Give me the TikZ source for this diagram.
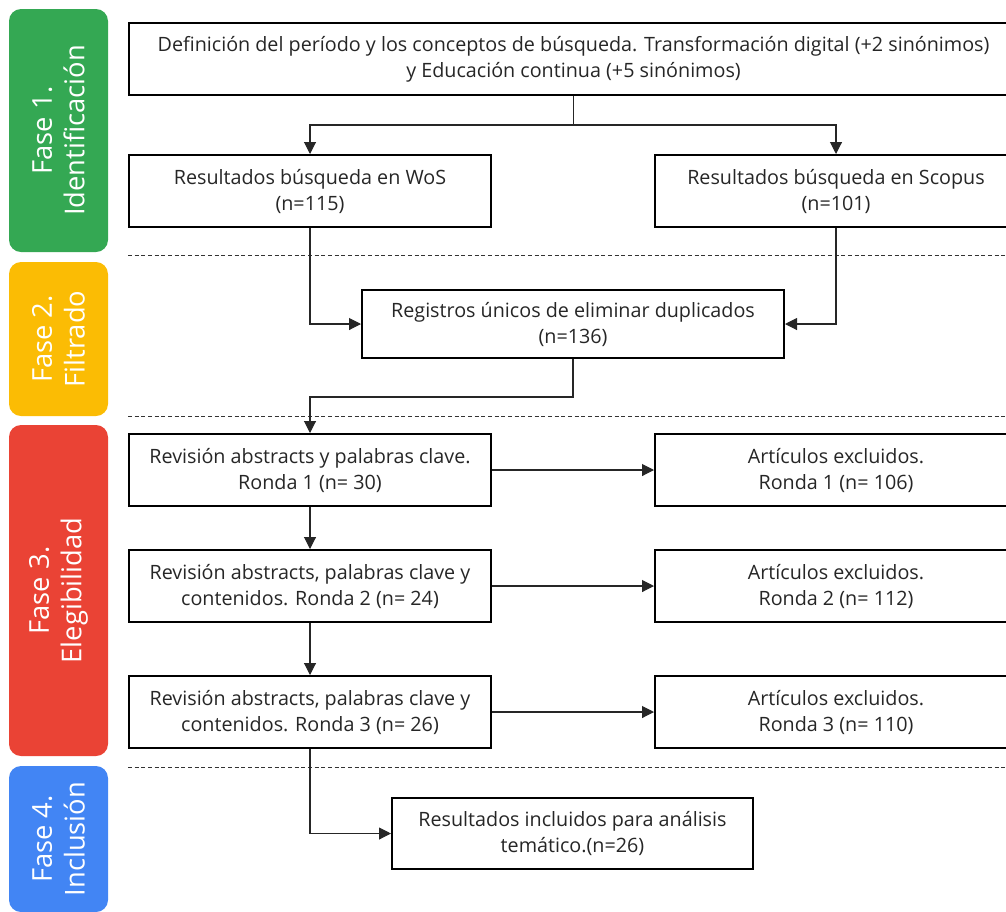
\documentclass[tikz,border=0pt]{standalone}
\usepackage{fontspec}
\setmainfont{Open Sans}
\usetikzlibrary{positioning,arrows.meta}
\definecolor{faseverde}{HTML}{34A853}
\definecolor{faseamarillo}{HTML}{FBBC04}
\definecolor{faserojo}{HTML}{EA4335}
\definecolor{faseazul}{HTML}{4285F4}

\begin{document}
\begin{tikzpicture}[x=0.75pt, y=-0.75pt,
                       box/.style={draw, line width=1.5pt, minimum width=271.5pt, minimum height=54pt, inner sep=0pt, align=center, text=black!85, font=\fontsize{14.8}{19.5}\selectfont},
                       fase/.style={rounded corners=9pt, rotate=90, minimum height=74.25pt, inner sep=0pt, align=center, text=white, font=\fontsize{20.5}{24.5}\selectfont},
                       sep/.style={dash pattern=on 3pt off 2pt, line width=0.6pt, black!80},
                       arrow/.style={-{Triangle[length=9pt, width=9pt]}, line width=0.8pt, black!85}]
        \useasboundingbox (0,0) rectangle (1006,911);
        \clip (0,0) rectangle (1006,911);
        % Fases
        \node[fase, fill=faseverde, minimum width=182.25pt] (f1) at (58.5,130.5) {Fase 1.\\Identificación};
        \node[fase, fill=faseamarillo, minimum width=115.5pt] (f2) at (58.5,339) {Fase 2.\\Filtrado};
        \node[fase, fill=faserojo, minimum width=248.25pt] (f3) at (58.5,590.5) {Fase 3.\\Elegibilidad};
        \node[fase, fill=faseazul, minimum width=109.5pt] (f4) at (58.5,839) {Fase 4.\\Inclusión};
        % Separadores
        \draw[sep] (128,255) -- (1006,255);
        \draw[sep] (128,416) -- (1006,416);
        \draw[sep] (128,767) -- (1006,767);
        % Identificación
        \node[box, minimum width=666.75pt] (busqueda) at (573.5,59) {Definición del período y los conceptos de búsqueda. Transformación digital (+2 sinónimos)\\y Educación continua (+5 sinónimos)};
        \node[box] (wos) at (310,191) {Resultados búsqueda en WoS\\(n=115)};
        \node[box, right=121.5pt of wos] (scopus) {Resultados búsqueda en Scopus\\(n=101)};
        % Filtrado
        \node[box, minimum width=316.5pt, minimum height=51pt] (unicos) at (573,324) {Registros únicos de eliminar duplicados\\(n=136)};
        % Elegibilidad
        \node[box] (ronda1) at (310,470) {Revisión abstracts y palabras clave.\\Ronda 1 (n= 30)};
        \node[box] (ronda2) at (310,586) {Revisión abstracts, palabras clave y\\contenidos. Ronda 2 (n= 24)};
        \node[box] (ronda3) at (310,712) {Revisión abstracts, palabras clave y\\contenidos. Ronda 3 (n= 26)};
        \node[box, right=121.5pt of ronda1] (excl1) {Artículos excluidos.\\Ronda 1 (n= 106)};
        \node[box, right=121.5pt of ronda2] (excl2) {Artículos excluidos.\\Ronda 2 (n= 112)};
        \node[box, right=121.5pt of ronda3] (excl3) {Artículos excluidos.\\Ronda 3 (n= 110)};
        % Inclusión
        \node[box, minimum width=270.75pt, minimum height=53.25pt] (incluidos) at (572.5,833.5) {Resultados incluidos para análisis\\temático.(n=26)};
        % Arrows
        \coordinate (split) at (573.5,125);
        \coordinate (paso) at (573,397);
        \draw[arrow, -] (busqueda.south) -- (split);
        \draw[arrow] (split) -| (wos.north);
        \draw[arrow] (split) -| (scopus.north);
        \draw[arrow] (wos.south) |- (unicos.west);
        \draw[arrow] (scopus.south) |- (unicos.east);
        \draw[arrow] (unicos.south) -- (paso) -| (ronda1.north);
        \draw[arrow] (ronda1) -- (ronda2);
        \draw[arrow] (ronda2) -- (ronda3);
        \draw[arrow] (ronda1) -- (excl1);
        \draw[arrow] (ronda2) -- (excl2);
        \draw[arrow] (ronda3) -- (excl3);
        \draw[arrow] (ronda3.south) |- (incluidos.west);
    \end{tikzpicture}
\end{document}
